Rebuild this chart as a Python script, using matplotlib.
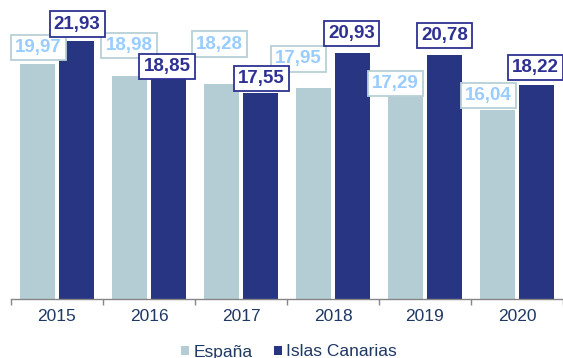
import matplotlib.pyplot as plt
import numpy as np

years = ["2015", "2016", "2017", "2018", "2019", "2020"]
espana = [19.97, 18.98, 18.28, 17.95, 17.29, 16.04]
canarias = [21.93, 18.85, 17.55, 20.93, 20.78, 18.22]

# label placement (pixels from the top of each bar)
esp_shift = [(1, 17), (-0.5, 30), (-2, 40), (-15, 29), (-10, 12), (-9, 15)]
can_shift = [(0.5, 17), (-1.5, 11), (0.5, 14), (-1, 19), (0, 19), (-1, 17)]

ESP_COLOR = "#b4cdd4"
CAN_COLOR = "#283583"
TEXT_COLOR = "#1f3864"

plt.rcParams["font.family"] = ["Liberation Sans", "DejaVu Sans"]

W, H = 563, 358
fig = plt.figure(figsize=(W / 100, H / 100), dpi=100)
ax = fig.add_axes([11 / W, 59 / H, 552 / W, 294 / H])

x = np.arange(len(years))
bw = 0.38
off = 0.212
ax.bar(x - off, espana, bw, color=ESP_COLOR, label="España")
ax.bar(x + off, canarias, bw, color=CAN_COLOR, label="Islas Canarias")

def add_labels(xs, vals, shifts, txt_color, edge_color):
    for xi, v, (dx, dy) in zip(xs, vals, shifts):
        ax.annotate(f"{v:.2f}".replace(".", ","), (xi, v),
                    xytext=(dx, dy), textcoords="offset pixels",
                    ha="center", va="center", fontsize=13.5, fontweight="bold",
                    color=txt_color, annotation_clip=False,
                    bbox=dict(boxstyle="square,pad=0.22", fc="white",
                              ec=edge_color, lw=1.3))

add_labels(x - off, espana, esp_shift, "#99ccff", "#b8d0d8")
add_labels(x + off, canarias, can_shift, "#2e3192", "#2e3192")

ax.set_xlim(-0.5, len(years) - 0.5)
ax.set_ylim(0, 25)
ax.set_yticks([])
for s in ["left", "right", "top"]:
    ax.spines[s].set_visible(False)
ax.spines["bottom"].set_color("#868686")
ax.spines["bottom"].set_linewidth(1.0)

ax.set_xticks(x)
ax.set_xticklabels(years, fontsize=12.5, color=TEXT_COLOR)
ax.tick_params(axis="x", which="major", length=0, pad=7)
ax.set_xticks(np.arange(-0.5, len(years)), minor=True)
ax.tick_params(axis="x", which="minor", length=4, color="#868686", width=1.0)

fig.legend(loc="center", bbox_to_anchor=(289 / W, 6 / H), ncol=2,
           frameon=False, fontsize=12.5, labelcolor=TEXT_COLOR,
           handlelength=0.46, handleheight=0.46, handletextpad=0.25,
           columnspacing=1.2, borderpad=0)

fig.savefig("out.png", dpi=100)
